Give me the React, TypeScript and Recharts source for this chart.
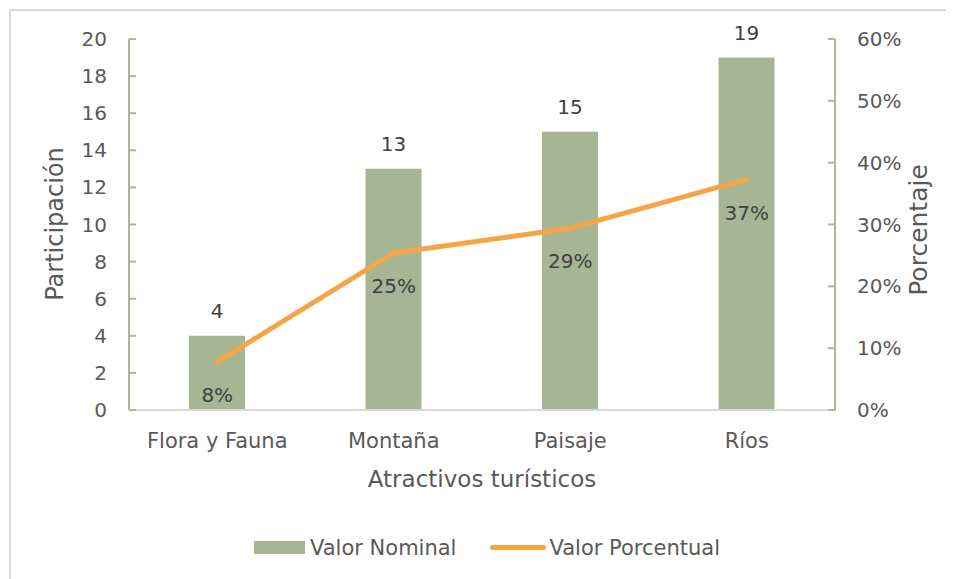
import React from 'react';
import { ComposedChart, Bar, Line, XAxis, YAxis, Legend, LabelList } from 'recharts';

const categories = ['Flora y Fauna', 'Montaña', 'Paisaje', 'Ríos'];
const nominal = [4, 13, 15, 19];
const porcentual = [0.078, 0.254, 0.294, 0.373];
const leftTicks = [0, 2, 4, 6, 8, 10, 12, 14, 16, 18, 20];
const rightTicks = [0, 0.1, 0.2, 0.3, 0.4, 0.5, 0.6];

const data = categories.map((c, i) => ({ name: c, nominal: nominal[i], pct: porcentual[i] }));

const FONT = '"DejaVu Sans", sans-serif';
const AXIS_GREEN = '#a9b998';
const BAR = '#a6b593';
const ORANGE = '#f5a545';
const TXT = '#595959';

const LeftTick = (props: any) => {
  const { x, y, payload } = props;
  return (
    <g>
      <line x1={x + 22} x2={x + 29} y1={y} y2={y} stroke={AXIS_GREEN} strokeWidth={2} />
      <text x={x} y={y} dy={7} textAnchor="end" fill={TXT} fontSize={20} fontFamily={FONT}>{payload.value}</text>
    </g>
  );
};

const RightTick = (props: any) => {
  const { x, y, payload } = props;
  return (
    <g>
      <line x1={x - 22} x2={x - 29} y1={y} y2={y} stroke={AXIS_GREEN} strokeWidth={2} />
      <text x={x} y={y} dy={7} textAnchor="start" fill={TXT} fontSize={20} fontFamily={FONT}>{Math.round(payload.value * 100) + '%'}</text>
    </g>
  );
};

const LeftTitle = (props: any) => {
  const vb = props.viewBox || {};
  const cy = vb.y + vb.height / 2 - 0.5;
  const bx = 55;
  return (
    <text x={bx} y={cy} transform={`rotate(-90, ${bx}, ${cy})`} textAnchor="middle" fill={TXT} fontSize={24} fontFamily={FONT}>Participación</text>
  );
};

const RightTitle = (props: any) => {
  const vb = props.viewBox || {};
  const cy = vb.y + vb.height / 2 + 5.5;
  const bx = 919;
  return (
    <text x={bx} y={cy} transform={`rotate(-90, ${bx}, ${cy})`} textAnchor="middle" fill={TXT} fontSize={25} fontFamily={FONT}>Porcentaje</text>
  );
};

const LegendContent = () => (
  <div style={{ height: 79, display: 'flex', justifyContent: 'center', alignItems: 'center', paddingTop: 16, paddingLeft: 12, boxSizing: 'border-box', fontFamily: FONT, fontSize: 21, color: TXT }}>
    <div style={{ display: 'flex', alignItems: 'center', marginRight: 34 }}>
      <div style={{ width: 51, height: 13, background: BAR, marginRight: 5 }} />
      <span>Valor Nominal</span>
    </div>
    <div style={{ display: 'flex', alignItems: 'center' }}>
      <div style={{ width: 56, height: 5, borderRadius: 3, background: ORANGE, marginRight: 3 }} />
      <span>Valor Porcentual</span>
    </div>
  </div>
);

export default function App() {
  return (
    <div style={{ position: 'relative', width: 946, height: 571 }}>
      <div style={{ position: 'absolute', left: 1, top: 1, right: -20, bottom: -20, borderTop: '2px solid #d9d9d9', borderLeft: '2px solid #d9d9d9' }} />
      <ComposedChart width={946} height={571} data={data} margin={{ top: 31, right: 0, left: 0, bottom: 0 }} barCategoryGap="34%">
        <XAxis
          dataKey="name"
          height={90}
          tickLine={false}
          axisLine={{ stroke: '#d9d9d9', strokeWidth: 2 }}
          tick={{ fill: TXT, fontSize: 21, fontFamily: FONT }}
          tickMargin={17}
          label={{ value: 'Atractivos turísticos', position: 'insideBottom', offset: 13, fill: TXT, fontSize: 23, fontFamily: FONT }}
        />
        <YAxis
          yAxisId="left"
          width={121}
          domain={[0, 20]}
          ticks={leftTicks}
          interval={0}
          tickLine={false}
          tickSize={0}
          tickMargin={22}
          axisLine={{ stroke: AXIS_GREEN, strokeWidth: 2 }}
          tick={<LeftTick />}
          label={<LeftTitle />}
        />
        <YAxis
          yAxisId="right"
          orientation="right"
          width={119}
          domain={[0, 0.6]}
          ticks={rightTicks}
          interval={0}
          tickLine={false}
          tickSize={0}
          tickMargin={22}
          axisLine={{ stroke: AXIS_GREEN, strokeWidth: 2 }}
          tick={<RightTick />}
          label={<RightTitle />}
        />
        <Legend verticalAlign="bottom" content={<LegendContent />} />
        <Bar yAxisId="left" dataKey="nominal" name="Valor Nominal" fill={BAR} isAnimationActive={false}>
          <LabelList dataKey="nominal" position="top" offset={18} fill="#404040" fontSize={20} fontFamily={FONT} />
        </Bar>
        <Line yAxisId="right" type="linear" dataKey="pct" name="Valor Porcentual" stroke={ORANGE} strokeWidth={5} strokeLinecap="round" strokeLinejoin="round" dot={false} activeDot={false} isAnimationActive={false}>
          <LabelList dataKey="pct" position="bottom" offset={26} fill="#404040" fontSize={20} fontFamily={FONT} formatter={(v: any) => Math.round(v * 100) + '%'} />
        </Line>
      </ComposedChart>
    </div>
  );
}
